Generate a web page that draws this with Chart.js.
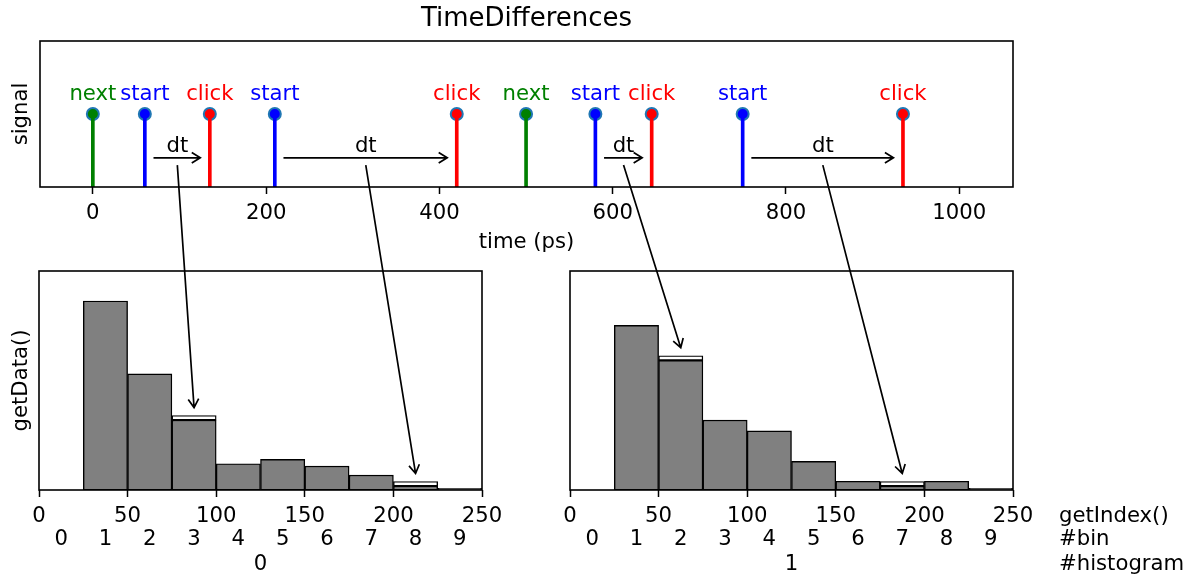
<!DOCTYPE html>
<html>
<head>
<meta charset="utf-8">
<script src="https://cdn.jsdelivr.net/npm/chart.js@4.4.0/dist/chart.umd.min.js"></script>
<style>
  html, body { margin: 0; padding: 0; background: #fff; overflow: hidden; }
  #wrap { position: relative; width: 1188px; height: 575px; }
  canvas { position: absolute; }
</style>
</head>
<body>
<div id="wrap">
  <canvas id="chartSignal" width="1188" height="259" style="left:0;top:0"></canvas>
  <canvas id="chartHist0" width="530" height="331" style="left:0;top:250px"></canvas>
  <canvas id="chartHist1" width="658" height="331" style="left:530px;top:250px"></canvas>
  <canvas id="overlay" width="1188" height="575" style="left:0;top:0;pointer-events:none"></canvas>
</div>
<script>
// top panel: signal events in time
const eventTimes = [0, 60, 135, 210, 420, 500, 580, 645, 750, 935];
const eventNames = ['next', 'start', 'click', 'start', 'click', 'next', 'start', 'click', 'start', 'click'];
const timeTicks = [0, 200, 400, 600, 800, 1000];

// start -> click pairs and where each dt ends up
const dtStart = [60, 210, 580, 750];
const dtStop = [135, 420, 645, 935];
const dtHistogram = [0, 0, 1, 1];
const dtBin = [3, 8, 2, 7];

// bottom panels: histograms
const binLabels = ['0', '1', '2', '3', '4', '5', '6', '7', '8', '9'];
const binTicks = [0, 50, 100, 150, 200, 250];
const hist0Old = [0, 86.3, 53.0, 31.9, 12.0, 14.0, 10.9, 6.8, 1.8, 0.8];
const hist0New = [0, 0, 0, 2.1, 0, 0, 0, 0, 2.1, 0];
const hist1Old = [0, 75.2, 59.2, 31.9, 27.0, 13.1, 4.0, 1.8, 4.0, 0.8];
const hist1New = [0, 0, 2.1, 0, 0, 0, 0, 2.1, 0, 0];
const rowNotes = ['getIndex()', '#bin', '#histogram'];

const signalColors = { next: 'green', start: 'blue', click: 'red' };

const FONT = '21.2px "DejaVu Sans"';
Chart.defaults.font.family = '"DejaVu Sans"';
Chart.defaults.font.size = 21.2;
Chart.defaults.color = '#000';

function drawArrow(ctx, x0, y0, x1, y1) {
    const ang = Math.atan2(y1 - y0, x1 - x0);
    const len = 10, spread = 0.55;
    ctx.beginPath();
    ctx.moveTo(x0, y0);
    ctx.lineTo(x1, y1);
    ctx.moveTo(x1 - len * Math.cos(ang - spread), y1 - len * Math.sin(ang - spread));
    ctx.lineTo(x1, y1);
    ctx.lineTo(x1 - len * Math.cos(ang + spread), y1 - len * Math.sin(ang + spread));
    ctx.stroke();
}

const framePlugin = {
    id: 'frame',
    afterDatasetsDraw(chart) {
        const { ctx, chartArea: a } = chart;
        ctx.save();
        ctx.strokeStyle = '#000';
        ctx.lineWidth = 1.6;
        ctx.strokeRect(a.left, a.top, a.right - a.left, a.bottom - a.top);
        ctx.restore();
    }
};

const signalMarks = {
    id: 'signalMarks',
    afterDatasetsDraw(chart) {
        const { ctx, scales: { x, y } } = chart;
        ctx.save();
        ctx.font = FONT;
        ctx.textAlign = 'center';
        ctx.textBaseline = 'alphabetic';
        eventTimes.forEach((t, i) => {
            ctx.fillStyle = signalColors[eventNames[i]];
            ctx.fillText(eventNames[i], x.getPixelForValue(t), y.getPixelForValue(1.19));
        });
        ctx.fillStyle = '#000';
        ctx.strokeStyle = '#000';
        ctx.lineWidth = 1.7;
        dtStart.forEach((s, i) => {
            const e = dtStop[i];
            ctx.fillText('dt', x.getPixelForValue((s + e) / 2), y.getPixelForValue(0.486));
            drawArrow(ctx, x.getPixelForValue(s + 10), y.getPixelForValue(0.4),
                x.getPixelForValue(e - 11), y.getPixelForValue(0.4));
        });
        ctx.restore();
    }
};

const indexNotes = {
    id: 'indexNotes',
    afterDraw(chart) {
        const { ctx, chartArea, scales: { x, xv } } = chart;
        ctx.save();
        ctx.font = FONT;
        ctx.textAlign = 'left';
        ctx.textBaseline = 'middle';
        ctx.fillStyle = '#000';
        const left = chartArea.right + 46;
        ctx.fillText(rowNotes[0], left, xv.top + 26);
        ctx.fillText(rowNotes[1], left, x.top + 13);
        ctx.fillText(rowNotes[2], left, x.bottom - 17);
        ctx.restore();
    }
};

const points = eventTimes.map(t => ({ x: t, y: 1 }));
const pointColors = eventNames.map(n => signalColors[n]);

const signalChart = new Chart(document.getElementById('chartSignal'), {
    type: 'bar',
    data: {
        datasets: [
            { type: 'bar', data: points, backgroundColor: pointColors, barThickness: 3, borderWidth: 0 },
            {
                type: 'line', data: points, showLine: false, pointRadius: 6,
                pointBackgroundColor: pointColors, pointBorderColor: '#1f77b4', pointBorderWidth: 2
            }
        ]
    },
    options: {
        responsive: false,
        animation: false,
        layout: { padding: { left: 0, right: 175, top: 0, bottom: 0 } },
        plugins: {
            legend: { display: false },
            tooltip: { enabled: false },
            title: {
                display: true, text: 'TimeDifferences', fullSize: false, color: '#000',
                font: { size: 26, weight: 'normal' }, padding: { top: 4, bottom: 5.8 }
            }
        },
        scales: {
            x: {
                type: 'linear', min: -61, max: 1062, offset: false,
                afterBuildTicks: s => { s.ticks = timeTicks.map(v => ({ value: v })); },
                afterFit: s => { s.height = 72; },
                ticks: { padding: 6.5, callback: v => String(v) },
                grid: { offset: false, drawOnChartArea: false, tickLength: 7, tickColor: '#000', tickWidth: 1.5 },
                border: { display: false },
                title: { display: true, text: 'time (ps)', padding: { top: 4, bottom: 3.5 } }
            },
            y: {
                min: 0, max: 2,
                ticks: { display: false },
                grid: { display: false },
                border: { display: false },
                afterFit: s => { s.width = 40; },
                title: { display: true, text: 'signal', padding: { top: 8.5, bottom: 4 } }
            }
        }
    },
    plugins: [framePlugin, signalMarks]
});

function histogramChart(id, oldCounts, newCounts, index, leftWidth, rightPad, showTitle, extra) {
    return new Chart(document.getElementById(id), {
        type: 'bar',
        data: {
            labels: binLabels,
            datasets: [
                { data: oldCounts, backgroundColor: 'gray', borderColor: '#000', borderWidth: 1.4, borderSkipped: false },
                { data: newCounts, backgroundColor: '#fff', borderColor: '#000', borderWidth: 1.4, borderSkipped: false }
            ]
        },
        options: {
            responsive: false,
            animation: false,
            layout: { padding: { top: 21, right: rightPad, left: 0, bottom: 0 } },
            datasets: { bar: { categoryPercentage: 1, barPercentage: 1 } },
            plugins: { legend: { display: false }, tooltip: { enabled: false } },
            scales: {
                x: {
                    stacked: true, weight: 1, offset: true,
                    grid: { display: false, drawTicks: false },
                    border: { display: false },
                    ticks: { padding: 0.5, autoSkip: false, maxRotation: 0 },
                    afterFit: s => { s.height = 55; },
                    title: { display: true, text: String(index), padding: { top: 4, bottom: 3.5 } }
                },
                xv: {
                    type: 'linear', position: 'bottom', weight: 0, min: 0, max: 250, offset: false,
                    afterBuildTicks: s => { s.ticks = binTicks.map(v => ({ value: v })); },
                    afterFit: s => { s.height = 36; },
                    ticks: { padding: 6.5, callback: v => String(v) },
                    grid: { offset: false, drawOnChartArea: false, tickLength: 7, tickColor: '#000', tickWidth: 1.5 },
                    border: { display: false }
                },
                y: {
                    stacked: true, min: 0, max: 100,
                    ticks: { display: false },
                    grid: { display: false },
                    border: { display: false },
                    afterFit: s => { s.width = leftWidth; },
                    title: { display: showTitle, text: 'getData()', padding: { top: 8.5, bottom: 4 } }
                }
            }
        },
        plugins: [framePlugin].concat(extra)
    });
}

const hist0Chart = histogramChart('chartHist0', hist0Old, hist0New, 0, 39, 48, true, []);
const hist1Chart = histogramChart('chartHist1', hist1Old, hist1New, 1, 40, 175, false, [indexNotes]);

// arrows from each dt in the top panel to the bin it fills
function drawBigArrows() {
    const ctx = document.getElementById('overlay').getContext('2d');
    const hists = [hist0Chart, hist1Chart];
    const totals = [
        hist0Old.map((v, i) => v + hist0New[i]),
        hist1Old.map((v, i) => v + hist1New[i])
    ];
    ctx.strokeStyle = '#000';
    ctx.lineWidth = 1.7;
    dtStart.forEach((s, i) => {
        const x0 = signalChart.canvas.offsetLeft + signalChart.scales.x.getPixelForValue((s + dtStop[i]) / 2);
        const y0 = signalChart.canvas.offsetTop + signalChart.scales.y.getPixelForValue(0.3);
        const h = hists[dtHistogram[i]];
        const b = dtBin[i];
        const x1 = h.canvas.offsetLeft + h.scales.x.getPixelForValue(b);
        const y1 = h.canvas.offsetTop + h.scales.y.getPixelForValue(totals[dtHistogram[i]][b]) - 8;
        drawArrow(ctx, x0, y0, x1, y1);
    });
}
drawBigArrows();
</script>
</body>
</html>
